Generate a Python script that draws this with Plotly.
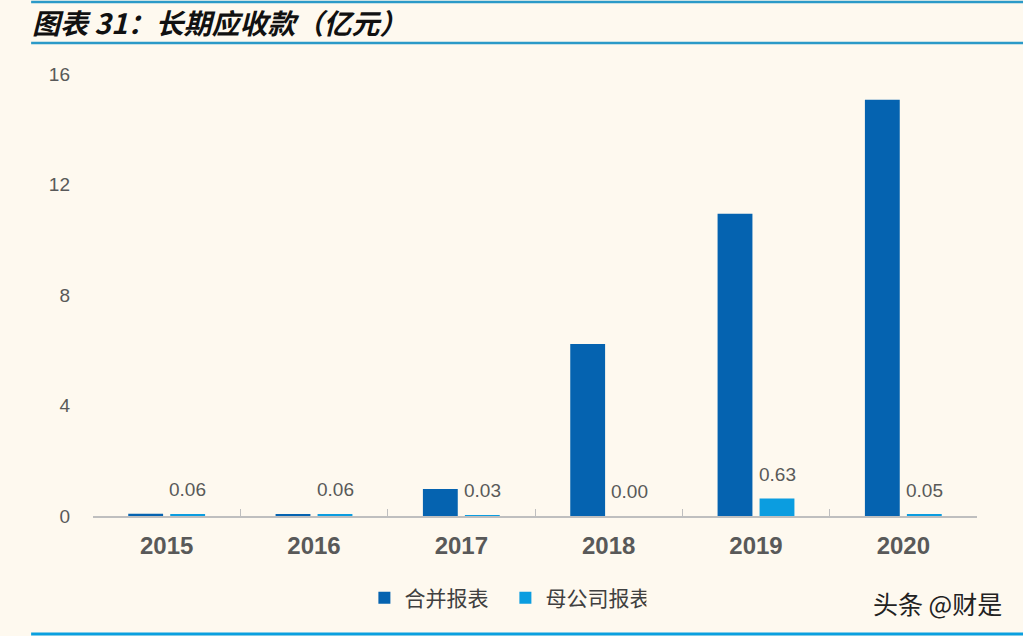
import plotly.graph_objects as go

# 数据
years = ["2015", "2016", "2017", "2018", "2019", "2020"]
consolidated = [0.08, 0.07, 0.98, 6.23, 10.94, 15.07]   # 合并报表
parent = [0.06, 0.06, 0.03, 0.00, 0.63, 0.05]           # 母公司报表
y_ticks = [0, 4, 8, 12, 16]

dark_blue = "#0563B0"
light_blue = "#0B9DE0"
grey = "#595959"
cjk = "Noto Sans CJK SC"
latin = "Liberation Sans, Arial"

fig = go.Figure()
fig.add_trace(go.Bar(
    x=years, y=consolidated, name="合并报表",
    marker=dict(color=dark_blue, line=dict(width=0)),
))
fig.add_trace(go.Bar(
    x=years, y=parent, name="母公司报表",
    marker=dict(color=light_blue, line=dict(width=0)),
))

# 母公司报表数据标签（放在浅蓝柱上方），x 用类目序号
for i, v in enumerate(parent):
    fig.add_annotation(
        x=i, y=v, text=f"{v:.2f}", showarrow=False,
        xshift=21, yshift=12, yanchor="bottom",
        font=dict(family=latin, size=19, color=grey),
    )

# 标题和装饰线
lines = [
    (1.163, "#2B9AC8", 2.5),
    (1.070, "#2B9AC8", 2.5),
    (-0.267, "#0AA0E0", 3),
]
for yy, col, w in lines:
    fig.add_shape(type="line", xref="paper", yref="paper",
                  x0=-0.070, x1=1.06, y0=yy, y1=yy,
                  line=dict(color=col, width=w))

fig.add_annotation(
    text="<b><i>图表 31：长期应收款（亿元）</i></b>",
    xref="paper", yref="paper", x=-0.071, y=1.118,
    xanchor="left", yanchor="middle", showarrow=False,
    font=dict(family=cjk, size=28, color="#111111"),
)
fig.add_annotation(
    text="头条 @财是",
    xref="paper", yref="paper", x=0.955, y=-0.197,
    xanchor="center", yanchor="middle", showarrow=False,
    font=dict(family=cjk, size=25, color="#222222"),
)

fig.update_layout(
    width=1023, height=636,
    margin=dict(l=93, r=46, t=74, b=120),
    paper_bgcolor="#FEF9EF",
    plot_bgcolor="#FEF9EF",
    barmode="group",
    bargap=0.43,
    bargroupgap=0.17,
    showlegend=True,
    legend=dict(
        orientation="h", x=0.307, y=-0.186, xanchor="left", yanchor="middle",
        font=dict(family=cjk, size=21, color="#404040"),
        itemwidth=30, entrywidth=96, entrywidthmode="pixels",
        bgcolor="rgba(0,0,0,0)",
    ),
)
fig.update_xaxes(
    type="category", categoryorder="array", categoryarray=years,
    range=[-0.5, len(years) - 0.5],
    showline=True, linecolor="#BFBFBF", linewidth=1.5,
    ticks="inside", tickson="boundaries", ticklen=7, tickcolor="#BFBFBF",
    tickfont=dict(family=latin, size=24, color=grey, weight="bold"),
    ticklabelstandoff=7, tickangle=0,
    showgrid=False,
)
fig.update_yaxes(
    range=[0, 16], tickvals=y_ticks,
    showgrid=False, zeroline=False, showline=False,
    tickfont=dict(family=latin, size=19, color=grey),
    ticklabelstandoff=22,
)

fig.write_html("out.html", config={"displayModeBar": False},
               post_script="document.body.style.margin='0';")
